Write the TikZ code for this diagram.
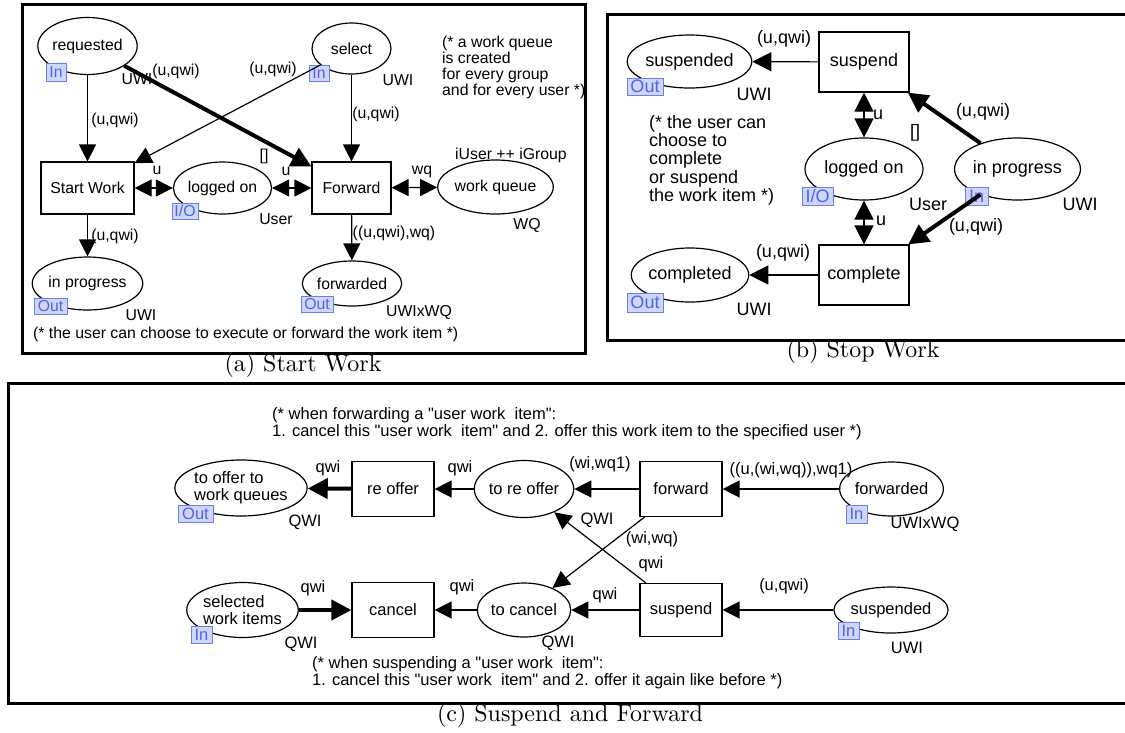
\documentclass[tikz,border=0pt]{standalone}
\usepackage{fontspec}
\newfontfamily\diagfont{Liberation Sans}
\newfontfamily\capfont[Extension=.otf]{lmroman10-regular}
\usetikzlibrary{shapes.geometric,arrows.meta}
\definecolor{tagfill}{RGB}{206,214,250}
\definecolor{tagdraw}{RGB}{105,125,235}
\definecolor{tagtext}{RGB}{80,100,225}

\begin{document}
\begin{tikzpicture}[x=1pt,y=-1pt,
  place/.style={ellipse, draw, line width=1.2pt, fill=white, inner sep=0pt},
  trans/.style={rectangle, draw, line width=1.2pt, fill=white, inner sep=0pt},
  tag/.style={rectangle, draw=tagdraw, fill=tagfill, text=tagtext, inner sep=0pt, line width=0.9pt},
  lbl/.style={inner sep=0pt, text height=1.5ex, text depth=.25ex},
  note/.style={inner sep=0pt, align=left, anchor=north west},
  arc/.style={line width=1.2pt, ->},
  both/.style={line width=1.2pt, <->},
  heavy/.style={line width=4pt, -{Triangle[length=20pt,width=20pt]}},
  frame/.style={line width=3pt},
  capt/.style={inner sep=0pt, anchor=base, font=\capfont\fontsize{24}{28}\selectfont},
  >={Triangle[length=17pt,width=17pt]}
]
\useasboundingbox (0,0) rectangle (1125,732);

% ---------------- (a) Start Work ----------------
\draw[frame] (22,4) rectangle (585,353);
\begin{scope}[font=\diagfont\fontsize{15.8}{15.8}\selectfont]
  \node[place, minimum width=79pt, minimum height=57pt] (req) at (87.5,46) {requested};
  \node[place, minimum width=79pt, minimum height=51pt] (sel) at (351.5,48.5) {select};
  \node[trans, minimum width=93pt, minimum height=52pt] (sw) at (87.5,188) {Start Work};
  \node[place, minimum width=93pt, minimum height=52pt] (lo) at (222.5,188) {logged on};
  \node[trans, minimum width=79pt, minimum height=52pt] (fw) at (351.5,188) {Forward};
  \node[place, minimum width=105pt, minimum height=54pt] (wq) at (495.5,187) {work queue};
  \node[place, minimum width=95pt, minimum height=53pt] (ip) at (87.5,283.5) {in progress};
  \node[place, minimum width=84pt, minimum height=45pt] (fwd) at (352,283.5) {forwarded};

  \node[tag, minimum width=20pt, minimum height=18pt] (reqtag) at (56,72) {In};
  \node[tag, minimum width=20pt, minimum height=16pt] (seltag) at (319,73) {In};
  \node[tag, minimum width=26pt, minimum height=16pt] (lotag) at (185,211) {I/O};
  \node[tag, minimum width=33pt, minimum height=16pt] (iptag) at (50.5,306) {Out};
  \node[tag, minimum width=32pt, minimum height=16pt] (fwdtag) at (317,304) {Out};

  \draw[arc] (req) -- (sw);
  \draw[heavy] (req) -- (fw);
  \draw[arc] (sel) -- (sw);
  \draw[arc] (sel) -- (fw);
  \draw[both] (sw) -- (lo);
  \draw[both] (lo) -- (fw);
  \draw[both] (fw) -- (wq);
  \draw[arc] (fw) -- (fwd);
  \draw[arc] (sw) -- (ip);

  \node[lbl] (la1) at (137,82) {UWI};
  \node[lbl] (la2) at (176,73) {(u,qwi)};
  \node[lbl] (la3) at (115,122) {(u,qwi)};
  \node[lbl] (la4) at (273,71) {(u,qwi)};
  \node[lbl] (la5) at (398,83) {UWI};
  \node[lbl] (la6) at (376,116) {(u,qwi)};
  \node[lbl] (la7) at (264,158) {[]};
  \node[lbl] (la8) at (157,172) {u};
  \node[lbl] (la9) at (286,173) {u};
  \node[lbl] (la10) at (276,222) {User};
  \node[lbl] (la11) at (422,172) {wq};
  \node[lbl] (la12) at (511,157) {iUser ++ iGroup};
  \node[lbl] (la13) at (527,227) {WQ};
  \node[lbl] (la14) at (394,235) {((u,qwi),wq)};
  \node[lbl] (la15) at (419,314) {UWIxWQ};
  \node[lbl] (la16) at (115,238) {(u,qwi)};
  \node[lbl] (la17) at (141,318) {UWI};
  \node[note] (na1) at (442,36.2) {(* a work queue\\is created\\for every group\\and for every user *)};
  \node[note] (na2) at (33,327.2) {(* the user can choose to execute or forward the work item *)};
\end{scope}
\node[capt] (capa) at (303,371) {(a) Start Work};

% ---------------- (b) Stop Work ----------------
\draw[frame] (1125,14) -- (607,14) -- (607,340) -- (1125,340);
\begin{scope}[font=\diagfont\fontsize{18}{18.2}\selectfont, >={Triangle[length=19pt,width=19pt]}]
  \node[place, minimum width=115pt, minimum height=53pt] (bsusd) at (689.5,61.5) {suspended};
  \node[trans, minimum width=90pt, minimum height=60pt] (bsus) at (864,62) {suspend};
  \node[place, minimum width=118pt, minimum height=62pt] (blo) at (864,169) {logged on};
  \node[trans, minimum width=90pt, minimum height=60pt] (bcom) at (864,275) {complete};
  \node[place, minimum width=114pt, minimum height=54pt] (bcomd) at (690,275) {completed};
  \node[place, minimum width=109pt, minimum height=62pt] (bip) at (1017.5,169) {in progress};

  \node[tag, minimum width=36pt, minimum height=17pt] (bsusdtag) at (645,86.5) {Out};
  \node[tag, minimum width=31pt, minimum height=18pt] (blotag) at (817.5,196) {I/O};
  \node[tag, minimum width=23pt, minimum height=18pt] (biptag) at (976.5,196) {In};
  \node[tag, minimum width=36pt, minimum height=19pt] (bcomdtag) at (645,302.5) {Out};

  \draw[arc] (bsus) -- (bsusd);
  \draw[arc] (bcom) -- (bcomd);
  \draw[both] (bsus) -- (blo);
  \draw[both] (blo) -- (bcom);
  \draw[heavy] (bip) -- (bsus);
  \draw[heavy] (bip) -- (bcom);

  \node[lbl] (lb1) at (784,41) {(u,qwi)};
  \node[lbl] (lb2) at (754,98) {UWI};
  \node[lbl] (lb3) at (878,117) {u};
  \node[lbl] (lb4) at (915,135) {[]};
  \node[lbl] (lb5) at (983,114) {(u,qwi)};
  \node[lbl] (lb6) at (928,208) {User};
  \node[lbl] (lb7) at (1080,208) {UWI};
  \node[lbl] (lb8) at (881,223) {u};
  \node[lbl] (lb9) at (976,229) {(u,qwi)};
  \node[lbl] (lb10) at (783,255) {(u,qwi)};
  \node[lbl] (lb11) at (754,313) {UWI};
  \node[note] (nb1) at (649,115.3) {(* the user can\\choose to\\complete\\or suspend\\the work item *)};
\end{scope}
\node[capt] (capb) at (863,357) {(b) Stop Work};

% ---------------- (c) Suspend and Forward ----------------
\draw[frame] (1125,383) -- (8,383) -- (8,703) -- (1125,703);
\begin{scope}[font=\diagfont\fontsize{16.5}{17}\selectfont]
  \node[place, minimum width=116pt, minimum height=56pt, align=left] (cto) at (241,488) {to offer to\\work queues};
  \node[trans, minimum width=82pt, minimum height=55pt] (cre) at (393,489) {re offer};
  \node[place, minimum width=82pt, minimum height=57pt] (ctro) at (524,489) {to re offer};
  \node[trans, minimum width=82pt, minimum height=55pt] (cfw) at (681,489) {forward};
  \node[place, minimum width=83pt, minimum height=54pt] (cfwd) at (891.5,489) {forwarded};
  \node[place, minimum width=103pt, minimum height=55pt, align=left] (csel) at (242.5,610) {selected\\work items};
  \node[trans, minimum width=82pt, minimum height=55pt] (ccan) at (393,610) {cancel};
  \node[place, minimum width=82pt, minimum height=54pt] (ctc) at (524,610) {to cancel};
  \node[trans, minimum width=82pt, minimum height=53pt] (csus) at (681,610) {suspend};
  \node[place, minimum width=104pt, minimum height=46pt] (csusd) at (891,610) {suspended};

  \node[tag, minimum width=35pt, minimum height=17pt] (ctotag) at (195.5,513.5) {Out};
  \node[tag, minimum width=21pt, minimum height=18pt] (cfwdtag) at (856.5,514) {In};
  \node[tag, minimum width=21pt, minimum height=17pt] (csusdtag) at (848.5,630.5) {In};
  \node[tag, minimum width=21pt, minimum height=17pt] (cseltag) at (201.5,634.5) {In};

  \draw[heavy] (cre) -- (cto);
  \draw[arc] (ctro) -- (cre);
  \draw[arc] (cfw) -- (ctro);
  \draw[arc] (cfwd) -- (cfw);
  \draw[arc] (cfw) -- (ctc);
  \draw[arc] (csus) -- (ctro);
  \draw[heavy] (csel) -- (ccan);
  \draw[arc] (ctc) -- (ccan);
  \draw[arc] (csus) -- (ctc);
  \draw[arc] (csusd) -- (csus);

  \node[lbl] (lc1) at (328,470) {qwi};
  \node[lbl] (lc2) at (460,470) {qwi};
  \node[lbl] (lc3) at (600,466) {(wi,wq1)};
  \node[lbl] (lc4) at (791,472) {((u,(wi,wq)),wq1)};
  \node[lbl] (lc5) at (305,524) {QWI};
  \node[lbl] (lc6) at (597,522) {QWI};
  \node[lbl] (lc7) at (925,526) {UWIxWQ};
  \node[lbl] (lc8) at (652,541) {(wi,wq)};
  \node[lbl] (lc9) at (651,566) {qwi};
  \node[lbl] (lc10) at (784,588) {(u,qwi)};
  \node[lbl] (lc11) at (313,590) {qwi};
  \node[lbl] (lc12) at (462,589) {qwi};
  \node[lbl] (lc13) at (605,597) {qwi};
  \node[lbl] (lc14) at (301,646) {QWI};
  \node[lbl] (lc15) at (558,645) {QWI};
  \node[lbl] (lc16) at (907,651) {UWI};
  \node[note] (nc1) at (272,406.9) {(* when forwarding a "user work \ item":\\1. cancel this "user work \ item" and 2. offer this work item to the specified user *)};
  \node[note] (nc2) at (312,655.9) {(* when suspending a "user work \ item":\\1. cancel this "user work \ item" and 2. offer it again like before *)};
\end{scope}
\node[capt] (capc) at (570,721) {(c) Suspend and Forward};
\end{tikzpicture}
\end{document}
